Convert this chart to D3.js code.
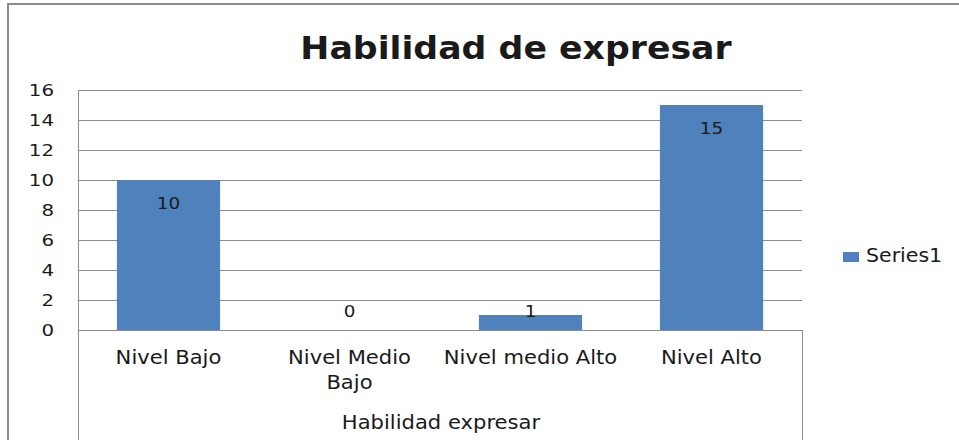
<!DOCTYPE html>
<html>
<head>
<meta charset="utf-8">
<script src="https://cdn.jsdelivr.net/npm/d3@7/dist/d3.min.js"></script>
<style>
  html, body { margin: 0; padding: 0; background: #fff; }
  svg { display: block; }
  text { font-family: "DejaVu Sans", Verdana, sans-serif; fill: #1a1a1a; }
</style>
</head>
<body>
<svg id="chart" width="959" height="440"></svg>
<script>
// Chart content
const chartTitle = "Habilidad de expresar";
const axisTitle = "Habilidad expresar";
const seriesName = "Series1";
const categories = ["Nivel Bajo", "Nivel Medio\nBajo", "Nivel medio Alto", "Nivel Alto"];
const values = [10, 0, 1, 15];
const yTicks = [0, 2, 4, 6, 8, 10, 12, 14, 16];

const svg = d3.select("#chart");
const W = 959, H = 440;
const plot = { left: 78, right: 802, top: 90, bottom: 330 };
const barColor = "#4f81bd";
const gridColor = "#8c8c8c";

// horizontally stretched text helper
function stretch(sel, sx) {
  sel.each(function () {
    const t = d3.select(this);
    const x = +t.attr("x"), y = +t.attr("y");
    t.attr("transform", `translate(${x},${y}) scale(${sx},1) translate(${-x},${-y})`);
  });
  return sel;
}

// outer chart frame
svg.append("rect")
  .attr("x", 8).attr("y", 4)
  .attr("width", W + 20).attr("height", H + 20)
  .attr("fill", "none").attr("stroke", "#8a8a8a").attr("stroke-width", 2);

const x = d3.scaleBand()
  .domain(categories)
  .range([plot.left, plot.right])
  .paddingInner(0.43).paddingOuter(0.215);

const y = d3.scaleLinear()
  .domain([0, 16])
  .range([plot.bottom, plot.top]);

// horizontal gridlines
const yAxis = d3.axisLeft(y).tickValues(yTicks).tickSize(-(plot.right - plot.left)).tickPadding(24).tickFormat(d3.format("d"));
const gy = svg.append("g").attr("transform", `translate(${plot.left},0)`).call(yAxis);
gy.select(".domain").remove();
gy.selectAll(".tick line").attr("stroke", gridColor).attr("stroke-width", 1).attr("shape-rendering", "crispEdges");
gy.selectAll(".tick text")
  .attr("x", -24).attr("dy", "0.36em")
  .style("font-size", "16.5px").style("font-family", "'DejaVu Sans', sans-serif").attr("fill", "#1a1a1a")
  .each(function () {
    const t = d3.select(this);
    const ty = 0;
    t.attr("transform", `translate(-24,${ty}) scale(1.2,1) translate(24,${-ty})`);
  });

// bars
svg.append("g").selectAll("rect")
  .data(values)
  .join("rect")
  .attr("x", (d, i) => x(categories[i]))
  .attr("y", d => y(d))
  .attr("width", x.bandwidth())
  .attr("height", d => y(0) - y(d))
  .attr("fill", barColor);

// vertical axis line and category area dividers
const axisLines = svg.append("g").attr("stroke", gridColor).attr("stroke-width", 1).attr("shape-rendering", "crispEdges");
axisLines.append("line").attr("x1", plot.left).attr("x2", plot.left).attr("y1", plot.top).attr("y2", H);
axisLines.append("line").attr("x1", plot.right).attr("x2", plot.right).attr("y1", plot.bottom).attr("y2", H);
axisLines.append("line").attr("x1", plot.left).attr("x2", plot.right).attr("y1", plot.bottom).attr("y2", plot.bottom);

// value labels, inside end
const vl = svg.append("g").selectAll("text")
  .data(values)
  .join("text")
  .attr("x", (d, i) => x(categories[i]) + x.bandwidth() / 2)
  .attr("y", d => Math.min(y(d) + 29, y(0) - 13))
  .attr("text-anchor", "middle")
  .style("font-size", "16px")
  .text(d => d);
stretch(vl, 1.15);

// category labels
const cat = svg.append("g");
categories.forEach((c, i) => {
  c.split("\n").forEach((line, j) => {
    const t = cat.append("text")
      .attr("x", x(c) + x.bandwidth() / 2)
      .attr("y", 364 + j * 25)
      .attr("text-anchor", "middle")
      .style("font-size", "19px")
      .text(line);
    stretch(t, 1.11);
  });
});

// axis title
stretch(svg.append("text")
  .attr("x", (plot.left + plot.right) / 2 + 1)
  .attr("y", 429)
  .attr("text-anchor", "middle")
  .style("font-size", "19px")
  .text(axisTitle), 1.11);

// chart title
stretch(svg.append("text")
  .attr("x", 516)
  .attr("y", 59)
  .attr("text-anchor", "middle")
  .style("font-size", "32px")
  .style("font-weight", "bold")
  .attr("fill", "#000")
  .text(chartTitle), 1.085);

// legend
const lg = svg.append("g");
lg.append("rect").attr("x", 843).attr("y", 252).attr("width", 16).attr("height", 10).attr("fill", barColor);
stretch(lg.append("text").attr("x", 866).attr("y", 262).style("font-size", "19px").text(seriesName), 1.08);
</script>
</body>
</html>
